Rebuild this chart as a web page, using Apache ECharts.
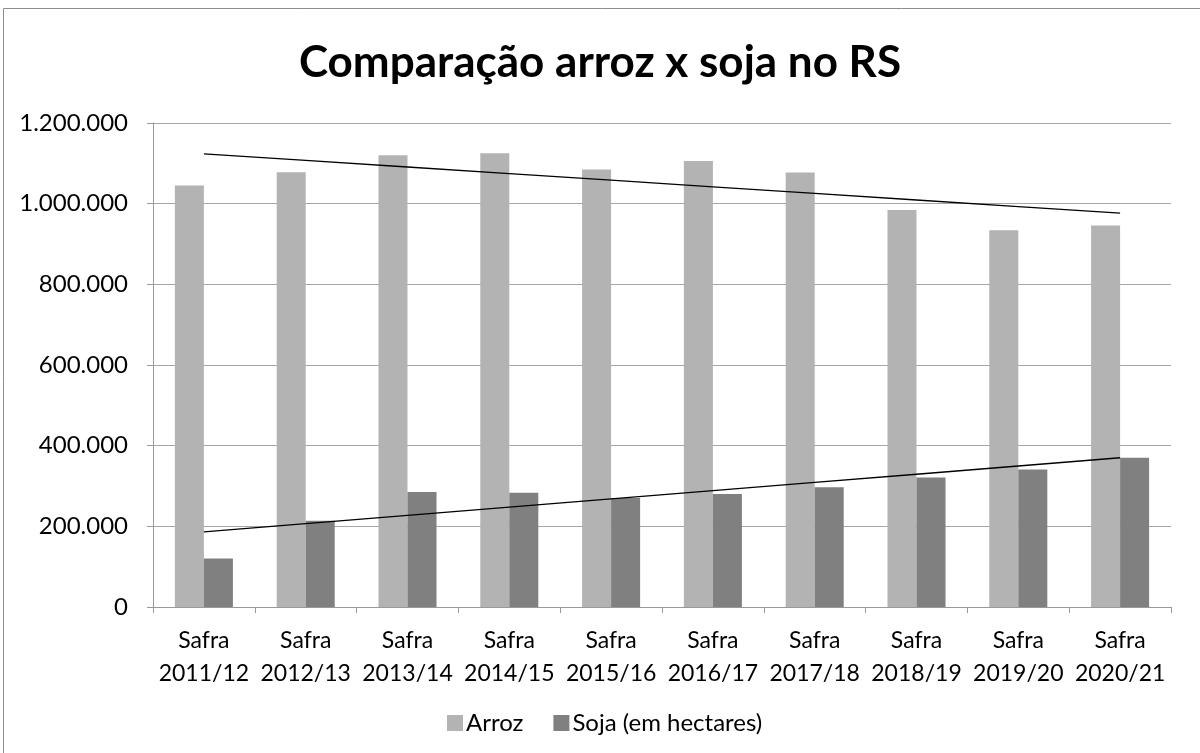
<!DOCTYPE html>
<html>
<head>
<meta charset="utf-8">
<script src="https://cdn.jsdelivr.net/npm/echarts@6/dist/echarts.min.js"></script>
<style>
  html, body { margin: 0; padding: 0; background: #fff; }
  #chart { width: 1200px; height: 753px; }
</style>
</head>
<body>
<div id="chart"></div>
<script>
const categories = ['Safra\n2011/12', 'Safra\n2012/13', 'Safra\n2013/14', 'Safra\n2014/15', 'Safra\n2015/16',
  'Safra\n2016/17', 'Safra\n2017/18', 'Safra\n2018/19', 'Safra\n2019/20', 'Safra\n2020/21'];
const arroz = [1045000, 1078000, 1120000, 1125000, 1085000, 1106000, 1077000, 984000, 934000, 946000];
const soja = [120000, 214000, 285000, 283000, 270000, 280000, 297000, 321000, 341000, 370000];

// linear trend (least squares), like the Excel trendline
function trend(values) {
  let n = values.length, sx = 0, sy = 0, sxy = 0, sxx = 0;
  values.forEach((v, i) => { sx += i; sy += v; sxy += i * v; sxx += i * i; });
  let b = (n * sxy - sx * sy) / (n * sxx - sx * sx);
  let a = (sy - b * sx) / n;
  return values.map((v, i) => a + b * i);
}

function fmt(v) {
  return String(v).replace(/\B(?=(\d{3})+(?!\d))/g, '.');
}

let myChart = echarts.init(document.getElementById('chart'));
let font = 'Lato, "Open Sans", sans-serif';

let option = {
  animation: false,
  textStyle: { fontFamily: font },
  graphic: [{
    type: 'rect',
    shape: { x: 3.5, y: 8.5, width: 1200, height: 760 },
    style: { fill: 'none', stroke: '#8c8c8c', lineWidth: 1 },
    silent: true
  }],
  title: {
    text: 'Comparação arroz x soja no RS',
    left: 'center',
    top: 36,
    textStyle: { fontFamily: font, fontSize: 44, fontWeight: 'bold', color: '#000' }
  },
  legend: {
    top: 706,
    left: 442,
    itemWidth: 16,
    itemHeight: 16,
    itemGap: 30,
    icon: 'rect',
    data: ['Arroz', 'Soja (em hectares)'],
    textStyle: { fontFamily: font, fontSize: 24, color: '#000', padding: [0, 0, 0, -2] }
  },
  grid: { left: 153, right: 29, top: 123, bottom: 146 },
  xAxis: {
    type: 'category',
    data: categories,
    axisLine: { lineStyle: { color: '#999', width: 1 } },
    axisTick: { show: true, length: 6, lineStyle: { color: '#999' } },
    axisLabel: { color: '#000', fontSize: 23, lineHeight: 33, margin: 17, interval: 0, fontFamily: font }
  },
  yAxis: {
    type: 'value',
    min: 0,
    max: 1200000,
    interval: 200000,
    axisLine: { show: true, lineStyle: { color: '#999', width: 1 } },
    axisTick: { show: true, length: 6, lineStyle: { color: '#999' } },
    splitLine: { lineStyle: { color: '#a6a6a6', width: 1 } },
    axisLabel: { color: '#000', fontSize: 24, margin: 25, formatter: fmt, fontFamily: font }
  },
  series: [
    {
      name: 'Arroz',
      type: 'bar',
      data: arroz,
      itemStyle: { color: '#b3b3b3' },
      barGap: '0%',
      barCategoryGap: '43%'
    },
    {
      name: 'Soja (em hectares)',
      type: 'bar',
      data: soja,
      itemStyle: { color: '#808080' }
    },
    {
      name: 'trendArroz',
      type: 'line',
      data: trend(arroz),
      showSymbol: false,
      lineStyle: { color: '#000', width: 1.3 },
      z: 5
    },
    {
      name: 'trendSoja',
      type: 'line',
      data: trend(soja),
      showSymbol: false,
      lineStyle: { color: '#000', width: 1.3 },
      z: 5
    }
  ]
};

option && myChart.setOption(option);
</script>
</body>
</html>
